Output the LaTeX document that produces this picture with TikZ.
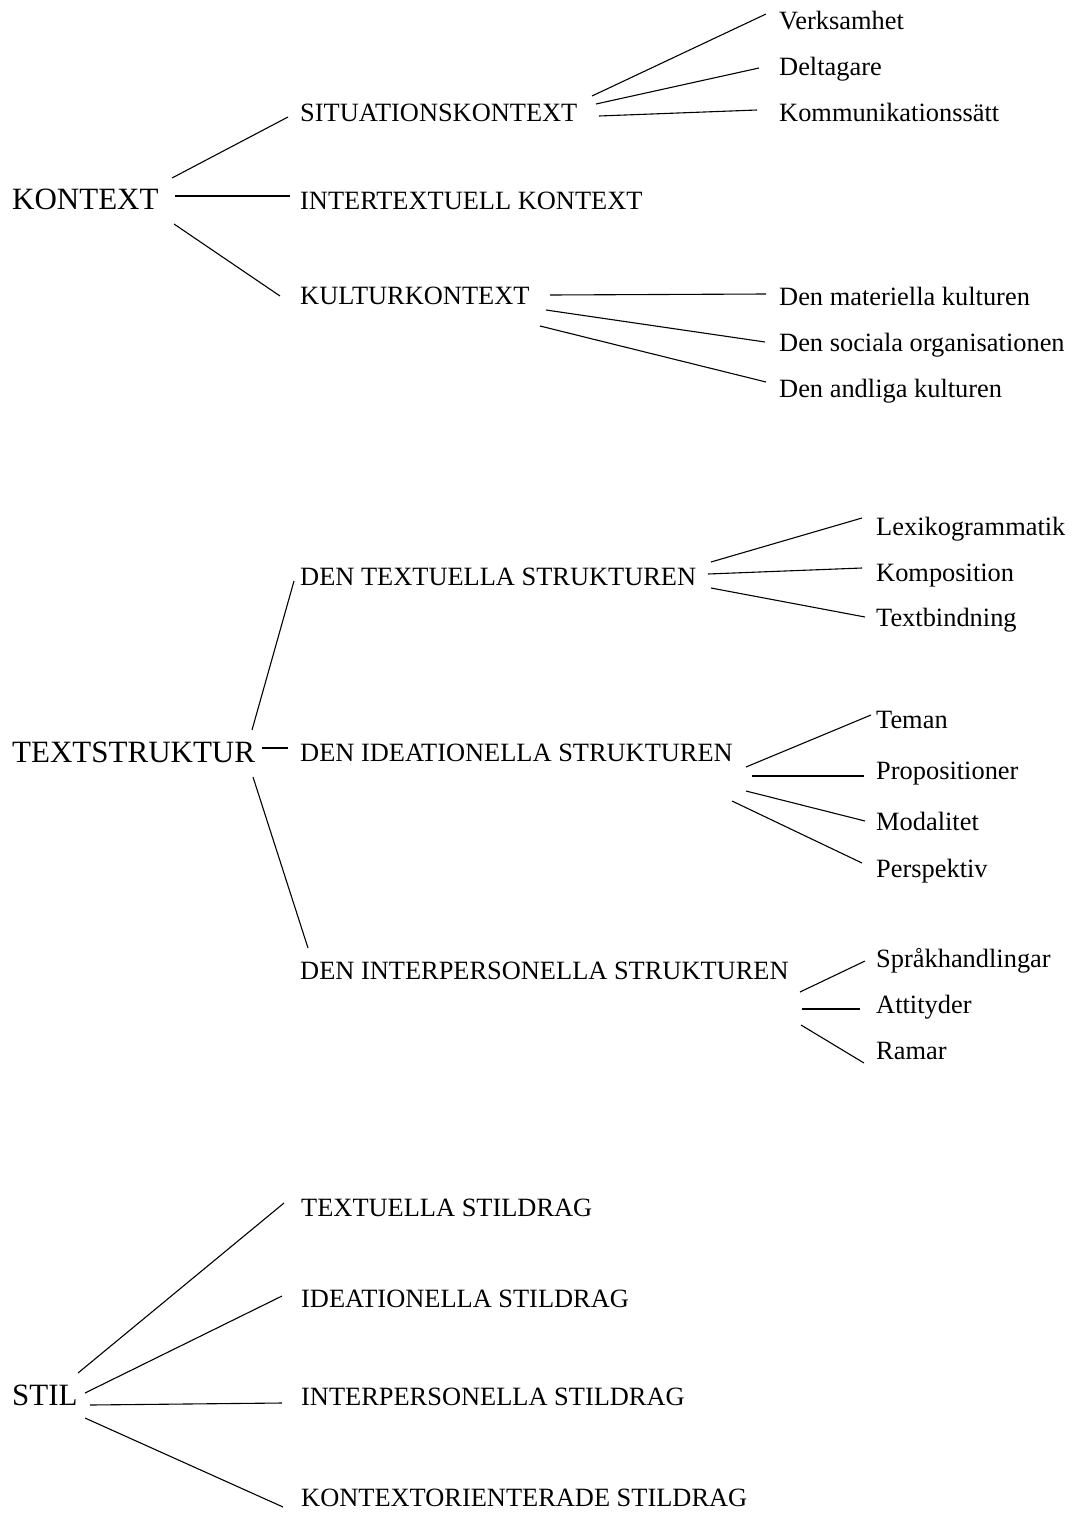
\documentclass[tikz,border=0pt]{standalone}
\usepackage{fontspec}
\setmainfont{Liberation Serif}
\begin{document}
\begin{tikzpicture}[x=1pt,y=-1pt,
  lbl/.style={anchor=base west,inner sep=0pt,font=\fontsize{26.4}{30}\selectfont},
  toplbl/.style={anchor=base west,inner sep=0pt,font=\fontsize{31}{36}\selectfont},
  conn/.style={draw=black,line width=1.1pt}]
\useasboundingbox[fill=white] (0,0) rectangle (1073,1515);

% ---------- KONTEXT ----------
\node[toplbl] (kontext) at (12,209) {KONTEXT};
\node[lbl] (sit) at (300,121) {SITUATIONSKONTEXT};
\node[lbl] (inter) at (300,209) {INTERTEXTUELL KONTEXT};
\node[lbl] (kultur) at (300,304) {KULTURKONTEXT};
\node[lbl] (verk) at (779,29) {Verksamhet};
\node[lbl] (delt) at (779,75) {Deltagare};
\node[lbl] (komm) at (779,121) {Kommunikationssätt};
\node[lbl] (mat) at (779,305) {Den materiella kulturen};
\node[lbl] (soc) at (779,351) {Den sociala organisationen};
\node[lbl] (andl) at (779,397) {Den andliga kulturen};

\coordinate (k1a) at (172,178); \coordinate (k1b) at (288,117);
\coordinate (k2a) at (175,196); \coordinate (k2b) at (290,196);
\coordinate (k3a) at (174,224); \coordinate (k3b) at (280,296);
\draw[conn] (k1a) -- (k1b);
\draw[conn] (k2a) -- (k2b);
\draw[conn] (k3a) -- (k3b);

\coordinate (s1a) at (592,96);  \coordinate (s1b) at (766,14);
\coordinate (s2a) at (596,104); \coordinate (s2b) at (759,68);
\coordinate (s3a) at (599,116); \coordinate (s3b) at (757,110);
\draw[conn] (s1a) -- (s1b);
\draw[conn] (s2a) -- (s2b);
\draw[conn] (s3a) -- (s3b);

\coordinate (c1a) at (550,295); \coordinate (c1b) at (766,294);
\coordinate (c2a) at (546,310); \coordinate (c2b) at (765,342);
\coordinate (c3a) at (540,326); \coordinate (c3b) at (766,382);
\draw[conn] (c1a) -- (c1b);
\draw[conn] (c2a) -- (c2b);
\draw[conn] (c3a) -- (c3b);

% ---------- TEXTSTRUKTUR ----------
\node[toplbl] (textstr) at (12,762) {TEXTSTRUKTUR};
\node[lbl] (dtext) at (300,585) {DEN TEXTUELLA STRUKTUREN};
\node[lbl] (dide) at (300,761) {DEN IDEATIONELLA STRUKTUREN};
\node[lbl] (dint) at (300,979) {DEN INTERPERSONELLA STRUKTUREN};
\node[lbl] (lex) at (876,535) {Lexikogrammatik};
\node[lbl] (komp) at (876,581) {Komposition};
\node[lbl] (textb) at (876,626) {Textbindning};
\node[lbl] (teman) at (876,728) {Teman};
\node[lbl] (prop) at (876,779) {Propositioner};
\node[lbl] (modal) at (876,830) {Modalitet};
\node[lbl] (persp) at (876,877) {Perspektiv};
\node[lbl] (sprak) at (876,967) {Språkhandlingar};
\node[lbl] (att) at (876,1013) {Attityder};
\node[lbl] (ramar) at (876,1059) {Ramar};

\coordinate (t1a) at (252,730); \coordinate (t1b) at (294,581);
\coordinate (t2a) at (262,748); \coordinate (t2b) at (288,748);
\coordinate (t3a) at (253,777); \coordinate (t3b) at (308,948);
\draw[conn] (t1a) -- (t1b);
\draw[conn] (t2a) -- (t2b);
\draw[conn] (t3a) -- (t3b);

\coordinate (x1a) at (711,562); \coordinate (x1b) at (862,518);
\coordinate (x2a) at (708,574); \coordinate (x2b) at (862,568);
\coordinate (x3a) at (711,588); \coordinate (x3b) at (865,617);
\draw[conn] (x1a) -- (x1b);
\draw[conn] (x2a) -- (x2b);
\draw[conn] (x3a) -- (x3b);

\coordinate (i1a) at (746,767); \coordinate (i1b) at (871,715);
\coordinate (i2a) at (752,776); \coordinate (i2b) at (864,776);
\coordinate (i3a) at (746,791); \coordinate (i3b) at (865,821);
\coordinate (i4a) at (732,801); \coordinate (i4b) at (862,863);
\draw[conn] (i1a) -- (i1b);
\draw[conn] (i2a) -- (i2b);
\draw[conn] (i3a) -- (i3b);
\draw[conn] (i4a) -- (i4b);

\coordinate (p1a) at (800,992);  \coordinate (p1b) at (865,961);
\coordinate (p2a) at (802,1009); \coordinate (p2b) at (860,1009);
\coordinate (p3a) at (801,1025); \coordinate (p3b) at (864,1063);
\draw[conn] (p1a) -- (p1b);
\draw[conn] (p2a) -- (p2b);
\draw[conn] (p3a) -- (p3b);

% ---------- STIL ----------
\node[toplbl] (stil) at (12,1405) {STIL};
\node[lbl] (tsd) at (301,1216) {TEXTUELLA STILDRAG};
\node[lbl] (isd) at (301,1307) {IDEATIONELLA STILDRAG};
\node[lbl] (ipsd) at (301,1405) {INTERPERSONELLA STILDRAG};
\node[lbl] (ksd) at (301,1506) {KONTEXTORIENTERADE STILDRAG};

\coordinate (y1a) at (78,1373); \coordinate (y1b) at (284,1203);
\coordinate (y2a) at (85,1393); \coordinate (y2b) at (282,1296);
\coordinate (y3a) at (90,1405); \coordinate (y3b) at (282,1403);
\coordinate (y4a) at (85,1418); \coordinate (y4b) at (283,1507);
\draw[conn] (y1a) -- (y1b);
\draw[conn] (y2a) -- (y2b);
\draw[conn] (y3a) -- (y3b);
\draw[conn] (y4a) -- (y4b);
\end{tikzpicture}
\end{document}
